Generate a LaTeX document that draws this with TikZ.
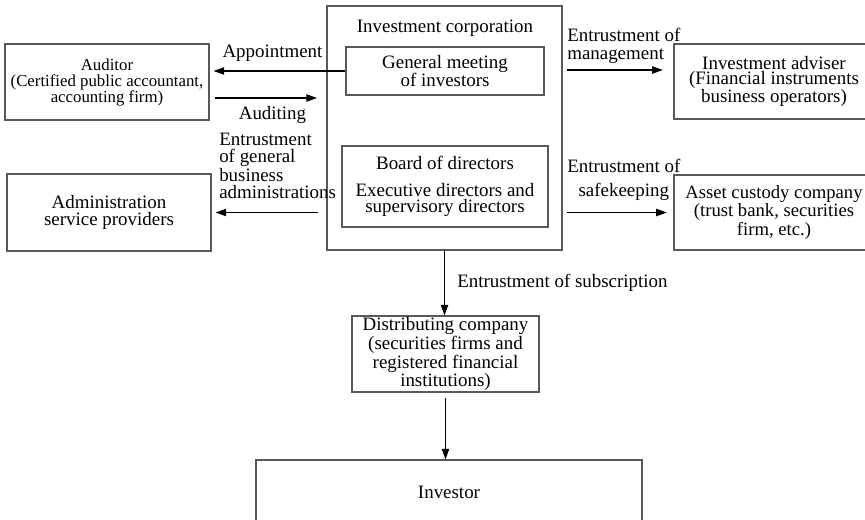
\documentclass[tikz,border=0pt]{standalone}
\usepackage{fontspec}
\setmainfont{Liberation Serif}
\usetikzlibrary{arrows.meta}

\tikzset{
  box/.style={draw=black!65,line width=0.8pt,rectangle,align=center,inner sep=0pt},
  flow/.style={draw=black,line width=0.8pt,-{Triangle[length=8pt,width=5.5pt]}},
  txt/.style={font=\fontsize{14.2}{12.5}\selectfont},
}

\begin{document}
\begin{tikzpicture}[x=0.75pt,y=-0.75pt]
      \useasboundingbox (0,0) rectangle (865,519);

      \begin{scope}[every node/.style={box,txt}]
        \node (corp)     at (444.5,128)   [minimum width=176.25pt,minimum height=183pt] {};
        \node (meeting)  at (445,71)      [minimum width=148.5pt,minimum height=36pt,font=\fontsize{14.2}{13.5}\selectfont] {General meeting\\of investors};
        \node (board)    at (445,186.5)   [minimum width=154.5pt,minimum height=60.75pt] {Board of directors\\[7.5pt]Executive directors and\\supervisory directors};
        \node (auditor)  at (107,82)      [minimum width=153pt,minimum height=57pt,font=\fontsize{12.6}{12}\selectfont] {Auditor\\(Certified public accountant,\\accounting firm)};
        \node (admin)    at (109,212.5)   [minimum width=153pt,minimum height=57.75pt] {Administration\\service providers};
        \node (adviser)  at (774,81.5)    [minimum width=150pt,minimum height=56.25pt,font=\fontsize{14.2}{11.4}\selectfont] {Investment adviser\\(Financial instruments\\business operators)};
        \node (custody)  at (774,212.5)   [minimum width=150pt,minimum height=56.25pt,font=\fontsize{14}{11.6}\selectfont] {Asset custody company\\(trust bank, securities\\firm, etc.)};
        \node (distrib)  at (445.5,354)   [minimum width=140.25pt,minimum height=57pt] {Distributing company\\(securities firms and\\registered financial\\institutions)};
        \node (investor) at (449,492)     [minimum width=289.5pt,minimum height=48pt] {Investor};
      \end{scope}

      \node[txt] (corptitle) at (445,28) {Investment corporation};

      % free ends of the side arrows
      \coordinate (audA) at (215,98);
      \coordinate (audB) at (317,98);
      \coordinate (genA) at (318,212.5);
      \coordinate (mgtA) at (567,70);
      \coordinate (safA) at (567,212.5);

      \begin{scope}[every node/.style={txt,inner sep=0pt}]
        \draw[flow] (meeting.west) -- ([xshift=3pt]meeting.west -| auditor.east);
        \node (appt) at (272.5,53) {Appointment};

        \draw[flow] (audA) -- (audB);
        \node (audit) at (272.5,115) {Auditing};

        \draw[flow] (genA) -- ([xshift=3pt]admin.east);
        \node[anchor=north west,align=left,font=\fontsize{14.2}{12.75}\selectfont] (genlbl) at (219,133) {Entrustment\\of general\\business\\administrations};

        \draw[flow] (mgtA) -- ([xshift=-8pt]mgtA -| adviser.west);
        \node[anchor=north west,align=left,font=\fontsize{14.2}{13.5}\selectfont] (mgtlbl) at (567,28) {Entrustment of\\management};

        \draw[flow] (safA) -- ([xshift=-5pt]custody.west);
        \node[anchor=north west,align=center,font=\fontsize{14.2}{18}\selectfont] (saflbl) at (567,159) {Entrustment of\\safekeeping};

        \draw[flow] (corp.south) -- (corp.south |- distrib.north);
        \node[anchor=west] (sublbl) at (457,283) {Entrustment of subscription};

        \draw[flow] ([yshift=-4pt]distrib.south) -- (distrib.south |- investor.north);
      \end{scope}

    \end{tikzpicture}
\end{document}
